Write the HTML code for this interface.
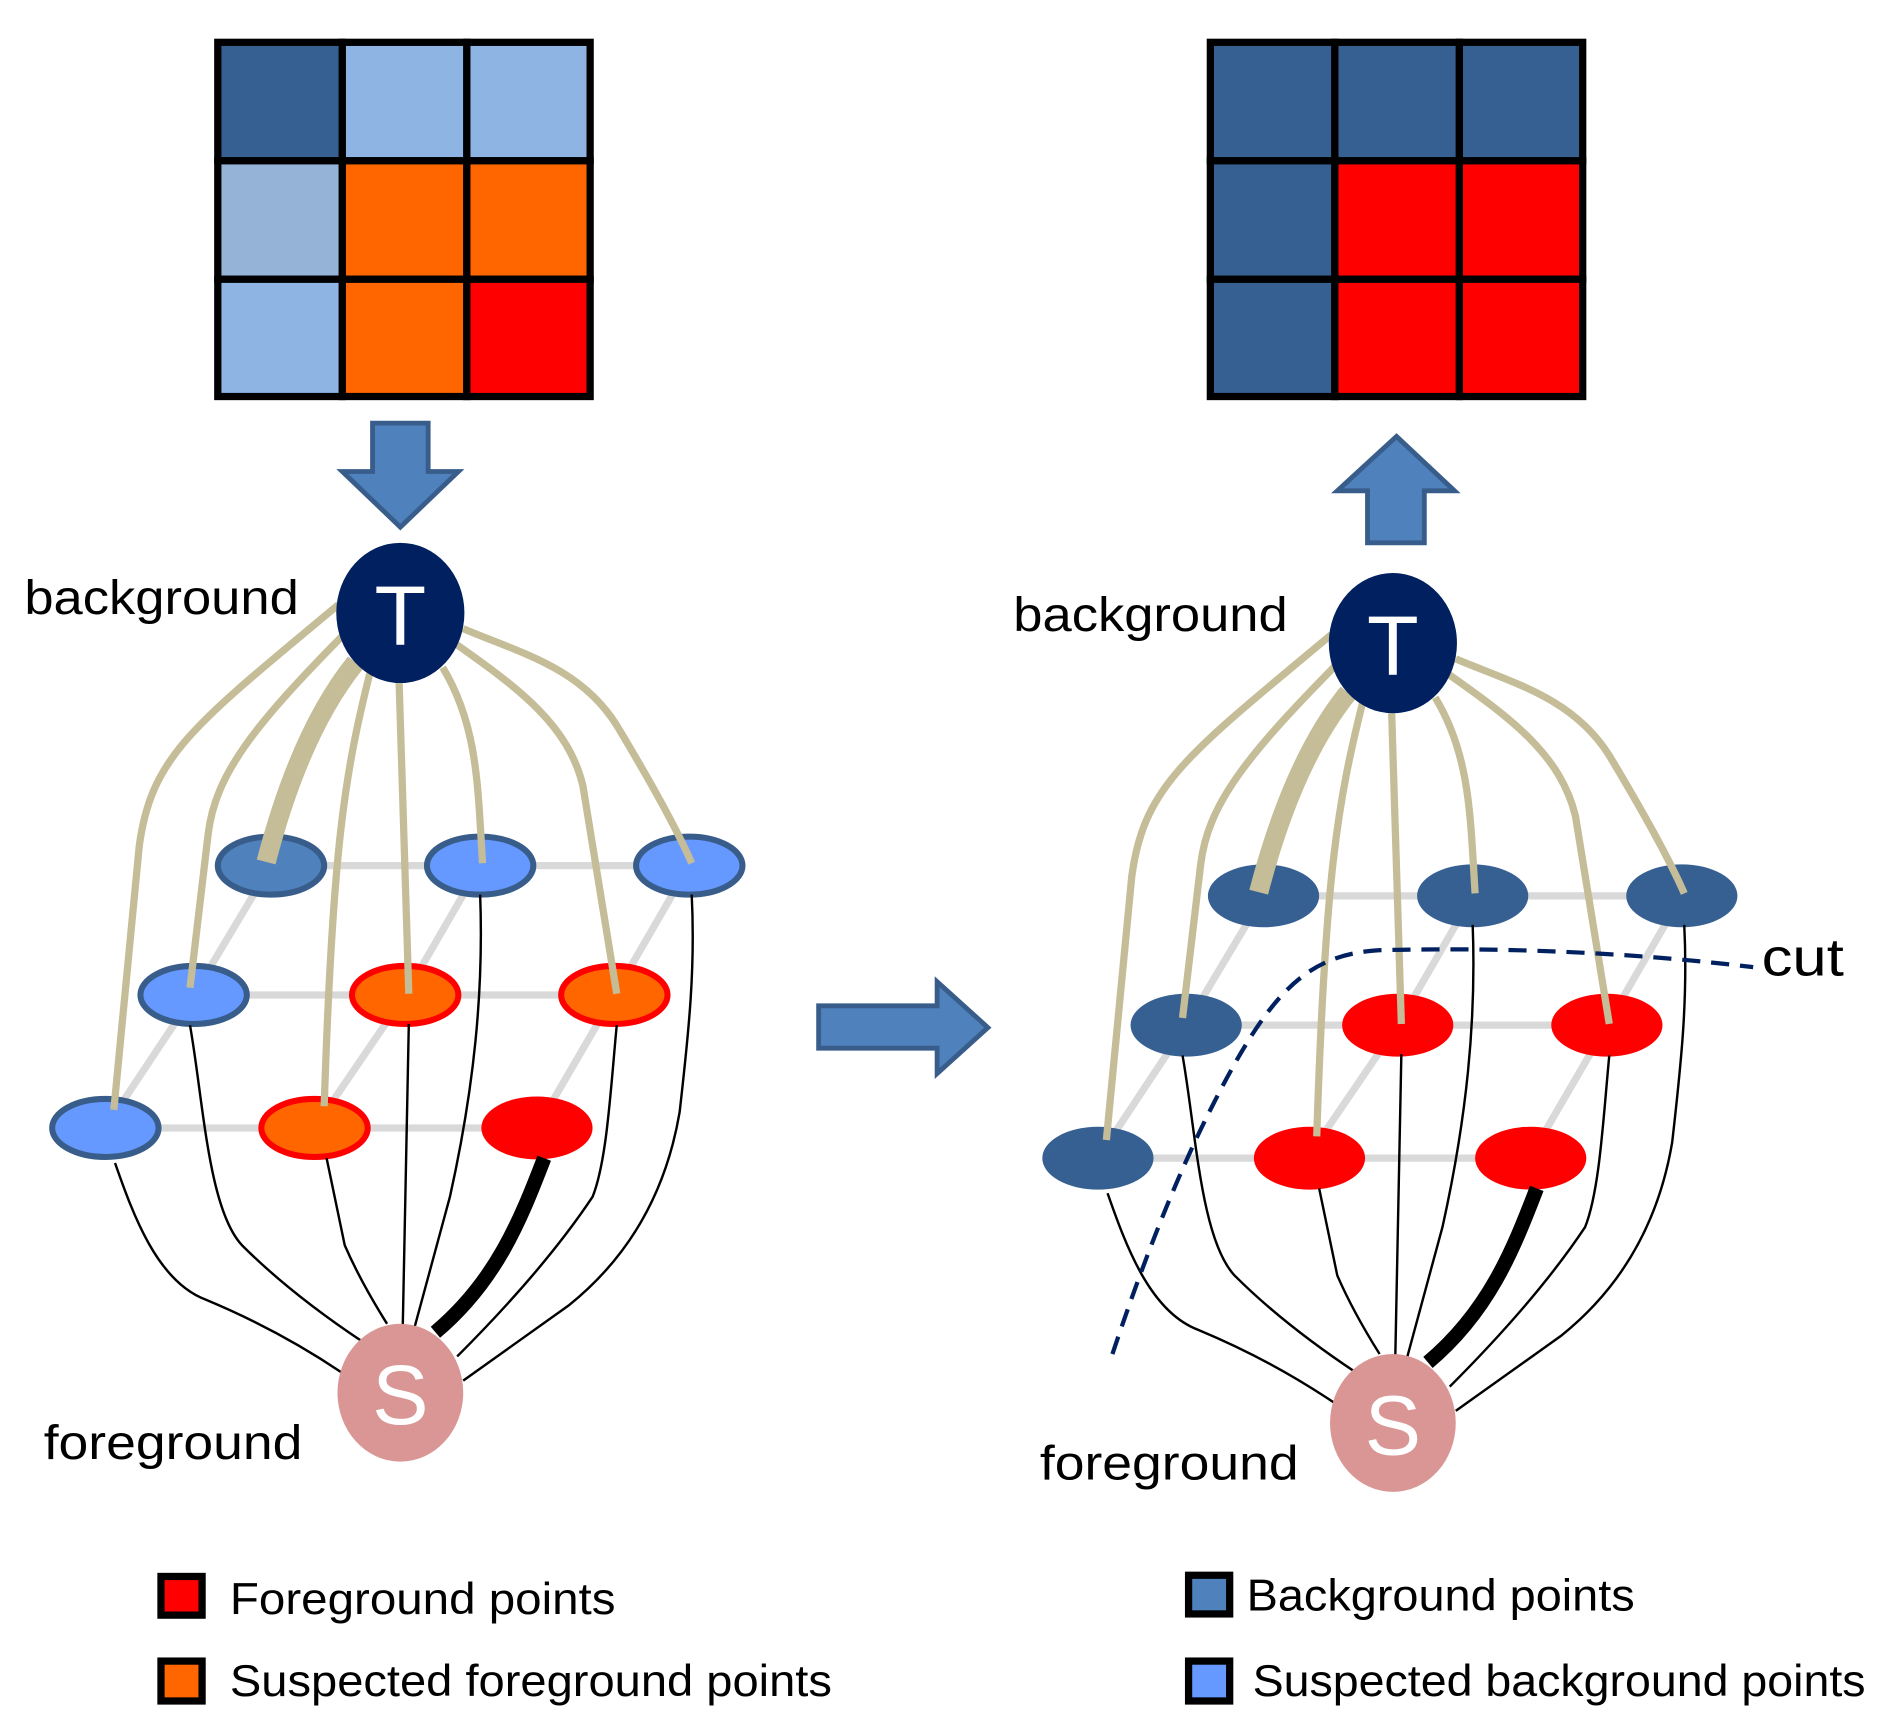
<!DOCTYPE html>
<html><head><meta charset="utf-8"><style>html,body{margin:0;padding:0;background:#fff}svg{display:block}</style></head>
<body>
<svg width="1896" height="1730" viewBox="0 0 1568 1431" xmlns="http://www.w3.org/2000/svg" font-family="Liberation Sans, sans-serif">
<rect width="1568" height="1431" fill="#fff"/>
<g stroke="#000" stroke-width="6">
<rect x="180" y="35" width="103" height="98" fill="#366092"/>
<rect x="283" y="35" width="103" height="98" fill="#8EB4E3"/>
<rect x="386" y="35" width="102" height="98" fill="#8EB4E3"/>
<rect x="180" y="133" width="103" height="98" fill="#95B3D7"/>
<rect x="283" y="133" width="103" height="98" fill="#FF6600"/>
<rect x="386" y="133" width="102" height="98" fill="#FF6600"/>
<rect x="180" y="231" width="103" height="97" fill="#8EB4E3"/>
<rect x="283" y="231" width="103" height="97" fill="#FF6600"/>
<rect x="386" y="231" width="102" height="97" fill="#FF0000"/>
</g>
<g stroke="#000" stroke-width="6">
<rect x="1001" y="35" width="103" height="98" fill="#366092"/>
<rect x="1104" y="35" width="103" height="98" fill="#366092"/>
<rect x="1207" y="35" width="102" height="98" fill="#366092"/>
<rect x="1001" y="133" width="103" height="98" fill="#366092"/>
<rect x="1104" y="133" width="103" height="98" fill="#FF0000"/>
<rect x="1207" y="133" width="102" height="98" fill="#FF0000"/>
<rect x="1001" y="231" width="103" height="97" fill="#366092"/>
<rect x="1104" y="231" width="103" height="97" fill="#FF0000"/>
<rect x="1207" y="231" width="102" height="97" fill="#FF0000"/>
</g>
<g fill="#4F81BD" stroke="#385D8A" stroke-width="4" stroke-linejoin="miter">
<polygon points="308,350 354,350 354,390 379,390 331,436 283,390 308,390"/>
<polygon points="1155,361 1203,406 1178,406 1178,449 1131,449 1131,406 1106,406"/>
<polygon points="677,832 775,832 775,812 817,850 775,888 775,867 677,867"/>
</g>

<defs>
<g id="graph">
<g stroke="#D9D9D9" stroke-width="6" fill="none">
<line x1="224" y1="716" x2="570" y2="716"/>
<line x1="160" y1="823" x2="508" y2="823"/>
<line x1="87" y1="933" x2="444" y2="933"/>
<polyline points="224,716 160,823 87,933"/>
<polyline points="397,716 335,823 260,933"/>
<polyline points="570,716 508,823 444,933"/>
</g>
</g>
<g id="tan">
<g stroke="#C4BD97" stroke-width="6" fill="none" stroke-linecap="butt">
<path d="M280,500 C160,600 125,625 115,700 L94,918"/>
<path d="M287,522 C210,600 178,640 172,690 L157,817"/>
<path d="M306,556 C285,640 275,700 268,915"/>
<path d="M330,565 L338,822"/>
<path d="M366,552 C395,600 395,650 399,714"/>
<path d="M376,532 C430,570 470,600 482,650 L510,822"/>
<path d="M383,520 C430,540 480,552 510,600 Q555,675 572,714"/>
<path d="M294,548 Q248,605 220,713" stroke-width="16"/>
</g>
<g stroke="#000" stroke-width="2" fill="none">
<path d="M95,962 C110,1005 130,1060 170,1075 Q230,1100 282,1135"/>
<path d="M157,848 C168,910 172,1000 200,1030 Q240,1070 300,1110"/>
<path d="M270,958 L285,1030 Q298,1060 320,1095"/>
<path d="M338,847 L333,1097"/>
<path d="M397,740 C400,820 392,900 372,990 L343,1097"/>
<path d="M510,848 C505,900 502,960 490,990 Q450,1050 378,1122"/>
<path d="M572,740 C575,800 570,850 562,920 Q545,1020 470,1080 L383,1142"/>
<path d="M450,958 C430,1010 410,1060 360,1102" stroke-width="12"/>
</g>
</g>
</defs>

<use href="#graph"/>
<g stroke-width="5">
<ellipse cx="224" cy="716" rx="44" ry="24" fill="#4F81BD" stroke="#385D8A"/>
<ellipse cx="397" cy="716" rx="44" ry="24" fill="#6699FF" stroke="#385D8A"/>
<ellipse cx="570" cy="716" rx="44" ry="24" fill="#6699FF" stroke="#385D8A"/>
<ellipse cx="160" cy="823" rx="44" ry="24" fill="#6699FF" stroke="#385D8A"/>
<ellipse cx="335" cy="823" rx="44" ry="24" fill="#FF6600" stroke="#FF0000"/>
<ellipse cx="508" cy="823" rx="44" ry="24" fill="#FF6600" stroke="#FF0000"/>
<ellipse cx="87" cy="933" rx="44" ry="24" fill="#6699FF" stroke="#385D8A"/>
<ellipse cx="260" cy="933" rx="44" ry="24" fill="#FF6600" stroke="#FF0000"/>
<ellipse cx="444" cy="933" rx="46" ry="26" fill="#FF0000" stroke="none"/>
</g>
<use href="#tan"/>
<ellipse cx="331" cy="507" rx="53" ry="58" fill="#002060"/>
<text x="331" y="533" font-size="70" fill="#fff" text-anchor="middle">T</text>
<ellipse cx="331" cy="1152" rx="52" ry="57" fill="#D99694"/>
<text x="331" y="1178" font-size="70" fill="#fff" text-anchor="middle">S</text>

<g transform="translate(821,25)">
<use href="#graph"/>
<g>
<ellipse cx="224" cy="716" rx="46" ry="26" fill="#366092"/>
<ellipse cx="397" cy="716" rx="46" ry="26" fill="#366092"/>
<ellipse cx="570" cy="716" rx="46" ry="26" fill="#366092"/>
<ellipse cx="160" cy="823" rx="46" ry="26" fill="#366092"/>
<ellipse cx="335" cy="823" rx="46" ry="26" fill="#FF0000"/>
<ellipse cx="508" cy="823" rx="46" ry="26" fill="#FF0000"/>
<ellipse cx="87" cy="933" rx="46" ry="26" fill="#366092"/>
<ellipse cx="262" cy="933" rx="46" ry="26" fill="#FF0000"/>
<ellipse cx="445" cy="933" rx="46" ry="26" fill="#FF0000"/>
</g>
<use href="#tan"/>
<ellipse cx="331" cy="507" rx="53" ry="58" fill="#002060"/>
<text x="331" y="533" font-size="70" fill="#fff" text-anchor="middle">T</text>
<ellipse cx="331" cy="1152" rx="52" ry="57" fill="#D99694"/>
<text x="331" y="1178" font-size="70" fill="#fff" text-anchor="middle">S</text>
</g>
<path d="M920,1120 Q960,1000 1000,920 C1050,820 1080,790 1140,786 Q1300,782 1450,800" stroke="#002060" stroke-width="3.5" fill="none" stroke-dasharray="15,9"/>

<g font-size="40" fill="#000">
<text x="20" y="508" textLength="227" lengthAdjust="spacingAndGlyphs">background</text>
<text x="838" y="522" textLength="227" lengthAdjust="spacingAndGlyphs">background</text>
<text x="36" y="1207" textLength="214" lengthAdjust="spacingAndGlyphs">foreground</text>
<text x="860" y="1224" textLength="214" lengthAdjust="spacingAndGlyphs">foreground</text>
<text x="1457" y="807" font-size="44" textLength="68" lengthAdjust="spacingAndGlyphs">cut</text>
</g>
<g stroke="#000" stroke-width="6">
<rect x="133" y="1304" width="34" height="32" fill="#FF0000"/>
<rect x="133" y="1374" width="34" height="33" fill="#FF6600"/>
<rect x="983" y="1303" width="34" height="32" fill="#4F81BD"/>
<rect x="983" y="1374" width="34" height="33" fill="#6699FF"/>
</g>
<g font-size="37" fill="#000">
<text x="190" y="1335" textLength="319" lengthAdjust="spacingAndGlyphs">Foreground points</text>
<text x="190" y="1403" textLength="498" lengthAdjust="spacingAndGlyphs">Suspected foreground points</text>
<text x="1031" y="1332" textLength="321" lengthAdjust="spacingAndGlyphs">Background points</text>
<text x="1036" y="1403" textLength="507" lengthAdjust="spacingAndGlyphs">Suspected background points</text>
</g>
</svg>
</body></html>
